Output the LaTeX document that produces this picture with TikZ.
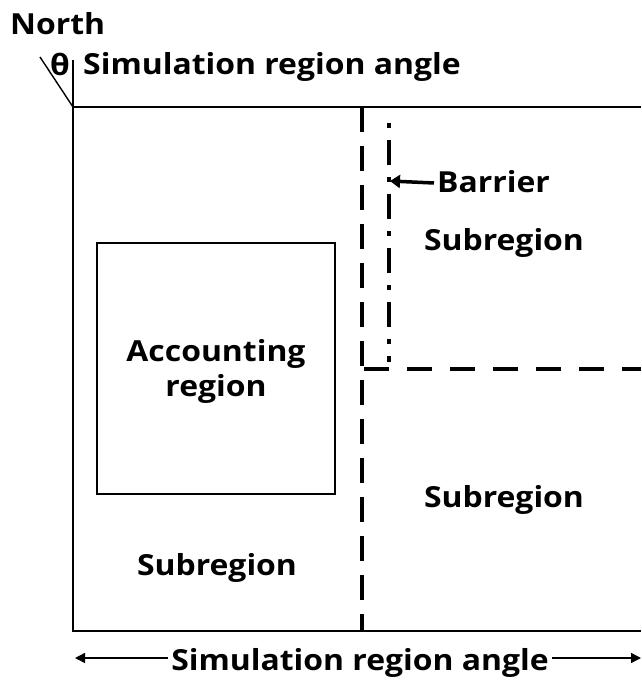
\documentclass[tikz,border=0pt]{standalone}
\usepackage{fontspec}
\setmainfont{Open Sans}[FakeStretch=1.1]
\usetikzlibrary{arrows.meta}
\begin{document}
\begin{tikzpicture}[x=1pt,y=-1pt,
  lbl/.style={font=\bfseries\fontsize{29}{35}\selectfont, inner sep=0pt},
  frame/.style={line width=1.4pt},
  bar/.style={line width=4.5pt, dash pattern=on 25pt off 14pt},
  dd/.style={line width=4.5pt, dash pattern=on 5pt off 12pt on 25pt off 12pt}]
\useasboundingbox (0,0) rectangle (641,682);
% coordinates
\coordinate (tl) at (73,107);
\coordinate (tr) at (641,107);
\coordinate (bl) at (73,631);
\coordinate (br) at (641,631);
\coordinate (tickTop) at (73,60);
\coordinate (diag) at (40,57);
% frame (right side cut off)
\draw[frame] (tr) -- (tl) -- (bl) -- (br);
\draw[frame] (tickTop) -- (tl);
\draw[frame] (diag) -- (tl);
% accounting region
\node[draw, frame, minimum width=238pt, minimum height=251pt, inner sep=0pt] (acc) at (216,368.5) {};
\node[lbl, align=center] (acct) at (216,371) {Accounting\\region};
% dashed subregion boundaries
\coordinate (vtop) at (362,107);
\coordinate (vbot) at (362,631);
\coordinate (hleft) at (362,369);
\coordinate (hright) at (641,369);
\draw[bar] (vtop) -- (vbot);
\draw[bar, dash pattern=on 25pt off 18pt, dash phase=-2pt] (hleft) -- (hright);
% barrier (dash-dot)
\coordinate (btop) at (389,123);
\coordinate (bbot) at (389,362);
\draw[dd] (btop) -- (bbot);
% labels
\node[lbl, anchor=west] (north) at (10,24) {North};
\node[lbl, anchor=west] (theta) at (50,64) {θ};
\node[lbl, anchor=west] (simtop) at (83,67) {Simulation region angle};
\node[lbl, anchor=west] (barrier) at (437,182) {Barrier};
\coordinate (barrierTip) at (390,181);
\draw[line width=3.5pt, -{Triangle[length=10pt,width=13pt]}] (barrier.west) ++(-3pt,-1pt) coordinate (bs) (bs) -- (barrierTip);
\node[lbl] (sub1) at (504,243) {Subregion};
\node[lbl] (sub2) at (504,500) {Subregion};
\node[lbl] (sub3) at (217,568) {Subregion};
\node[lbl, fill=white, inner xsep=3pt] (simbot) at (360,663) {Simulation region angle};
\coordinate (aL) at (75,658);
\coordinate (aR) at (641,658);
\draw[line width=1.4pt, {Triangle[length=10pt,width=10pt]}-] (aL) -- (simbot.west |- aL);
\draw[line width=1.4pt, -{Triangle[length=10pt,width=10pt]}] (simbot.east |- aR) -- (aR);
\end{tikzpicture}
\end{document}
